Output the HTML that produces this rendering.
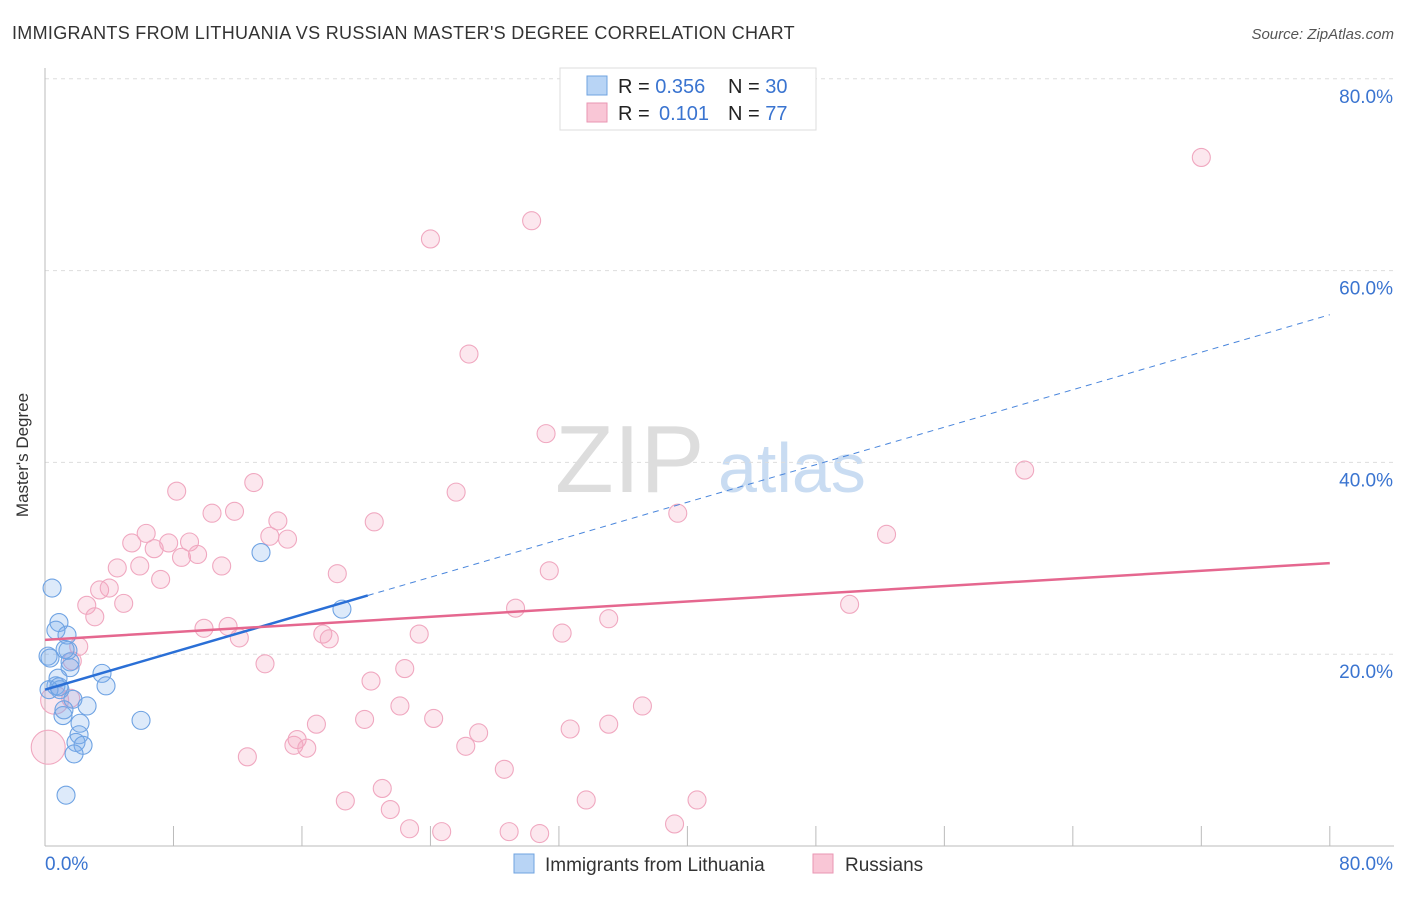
<!DOCTYPE html>
<html><head><meta charset="utf-8"><style>
body{margin:0;background:#fff;font-family:"Liberation Sans",sans-serif;}
svg text{font-family:"Liberation Sans",sans-serif;}
</style></head><body>
<svg id="chart" width="1406" height="892">
<text x="12" y="39" font-size="18" fill="#333" letter-spacing="0.3">IMMIGRANTS FROM LITHUANIA VS RUSSIAN MASTER'S DEGREE CORRELATION CHART</text>
<text x="1394" y="39" font-size="15" fill="#555" font-style="italic" text-anchor="end">Source: ZipAtlas.com</text>
<text x="28" y="455" font-size="17" fill="#333" transform="rotate(-90 28 455)" text-anchor="middle">Master's Degree</text>
<text x="555" y="492" font-size="96" fill="#ddd" font-family="Liberation Serif">ZIP</text>
<text x="718" y="492" font-size="70" fill="#c9dcf2">atlas</text>
<g id="grid"></g><g id="axes"></g><g id="pts"></g><g id="lines"></g>
<g>
<rect x="560" y="68" width="256" height="62" fill="#fff" stroke="#ddd"/>
<rect x="587" y="76" width="20" height="19" fill="#b8d4f5" stroke="#6fa3e0"/>
<rect x="587" y="103" width="20" height="19" fill="#f9c6d6" stroke="#e996b3"/>
<text x="618" y="93" font-size="20" fill="#222">R = <tspan fill="#3a74d0">0.356</tspan><tspan x="728">N = </tspan><tspan fill="#3a74d0">30</tspan></text>
<text x="618" y="120" font-size="20" fill="#222">R = <tspan x="659" fill="#3a74d0">0.101</tspan><tspan x="728">N = </tspan><tspan fill="#3a74d0">77</tspan></text>
</g>
<g>
<rect x="514" y="854" width="20" height="19" fill="#b8d4f5" stroke="#6fa3e0"/>
<text x="545" y="871" font-size="19" fill="#333">Immigrants from Lithuania</text>
<rect x="813" y="854" width="20" height="19" fill="#f9c6d6" stroke="#e996b3"/>
<text x="845" y="871" font-size="19" fill="#333">Russians</text>
</g>
</svg>
<script>
const yTicks=[20,40,60,80];
const xTickLabels=["0.0%","80.0%"];
const blueX=[0.44,0.87,0.68,1.37,1.43,0.19,0.31,1.56,1.56,0.81,0.68,0.93,1.74,1.12,1.18,2.62,3.55,3.80,2.18,2.12,1.93,2.37,1.81,1.31,5.98,13.45,18.49,0.25,0.87,1.25];
const blueY=[26.9,23.3,22.5,22.0,20.4,19.8,19.6,19.2,18.6,17.5,16.7,16.3,15.3,13.6,14.2,14.6,18.0,16.7,12.8,11.6,10.8,10.5,9.6,5.3,13.1,30.6,24.7,16.3,16.6,20.5];
const pinkX=[72.0,30.3,24.0,26.4,31.2,61.0,8.2,13.0,25.6,10.4,11.8,14.5,20.5,39.4,52.4,6.3,14.0,15.1,5.4,6.8,7.7,9.0,9.5,8.5,11.0,4.5,5.9,7.2,18.2,31.4,3.4,4.0,4.9,2.6,3.1,29.3,50.1,35.1,9.9,11.4,12.1,17.3,17.7,23.3,32.2,2.1,1.7,13.7,22.4,20.3,1.6,22.1,16.9,19.9,24.2,37.2,27.0,32.7,35.1,15.7,15.5,16.3,26.2,12.6,28.6,21.0,18.7,21.5,33.7,40.6,22.7,24.7,28.9,30.8,39.2,0.2,0.6];
const pinkY=[71.8,65.2,63.3,51.3,43.0,39.2,37.0,37.9,36.9,34.7,34.9,33.9,33.8,34.7,32.5,32.6,32.3,32.0,31.6,31.0,31.6,31.7,30.4,30.1,29.2,29.0,29.2,27.8,28.4,28.7,26.7,26.9,25.3,25.1,23.9,24.8,25.2,23.7,22.7,22.9,21.7,22.1,21.6,22.1,22.2,20.8,19.3,19.0,18.5,17.2,15.4,14.6,12.7,13.2,13.3,14.6,11.8,12.2,12.7,11.1,10.5,10.2,10.4,9.3,8.0,6.0,4.7,3.8,4.8,4.8,1.8,1.5,1.5,1.3,2.3,10.3,15.2];
const pinkR=[];pinkX.forEach((_,i)=>pinkR.push(i===75?17:(i===76?14:9)));
const blueLine=[16.3,55.4,20.1];
const pinkLine=[21.5,29.5];
const X=v=>45+v*16.06, Y=v=>846-v*9.59;
const NS="http://www.w3.org/2000/svg";
function mk(t,a,p){const e=document.createElementNS(NS,t);for(const k in a)e.setAttribute(k,a[k]);p.appendChild(e);return e;}
const grid=document.getElementById('grid'),axes=document.getElementById('axes');
yTicks.forEach(t=>{
 const l=mk('line',{x1:45,x2:1394,y1:Y(t),y2:Y(t),stroke:'#ddd','stroke-dasharray':'4,4'},grid);
 
 
 const tx=mk('text',{x:1393,y:Y(t)+24,'font-size':19,fill:'#3a74d0','text-anchor':'end'},axes);tx.textContent=t.toFixed(1)+'%';
 
 
});
const ya=mk('line',{x1:45,x2:45,y1:68,y2:846,stroke:'#bbb'},axes);


const xa=mk('line',{x1:45,x2:1394,y1:846,y2:846,stroke:'#bbb'},axes);


for(let i=0;i<=10;i++){const t=mk('line',{x1:X(i*8),x2:X(i*8),y1:826,y2:846,stroke:'#bbb'},axes);
 
 }
const xl0=mk('text',{x:45,y:870,'font-size':19,fill:'#3a74d0'},axes);xl0.textContent=xTickLabels[0];


const xl1=mk('text',{x:1393,y:870,'font-size':19,fill:'#3a74d0','text-anchor':'end'},axes);xl1.textContent=xTickLabels[1];


const pts=document.getElementById('pts');
pinkX.forEach((x,i)=>{const c=mk('circle',{cx:X(x),cy:Y(pinkY[i]),r:pinkR[i],fill:'rgba(244,160,188,0.25)',stroke:'#f0a8c0','stroke-width':1.1},pts);
 
 });
blueX.forEach((x,i)=>{const c=mk('circle',{cx:X(x),cy:Y(blueY[i]),r:9,fill:'rgba(120,170,235,0.25)',stroke:'#6fa3e3','stroke-width':1.1},pts);
 
 });
const lines=document.getElementById('lines');
const bAt=v=>blueLine[0]+(blueLine[1]-blueLine[0])*v/80;
const b1=mk('line',{x1:X(0),y1:Y(bAt(0)),x2:X(blueLine[2]),y2:Y(bAt(blueLine[2])),stroke:'#2a6fd6','stroke-width':2.5},lines);


const b2=mk('line',{x1:X(blueLine[2]),y1:Y(bAt(blueLine[2])),x2:X(80),y2:Y(bAt(80)),stroke:'#4a86dc','stroke-width':1,'stroke-dasharray':'6,5'},lines);


const p1=mk('line',{x1:X(0),y1:Y(pinkLine[0]),x2:X(80),y2:Y(pinkLine[1]),stroke:'#e5678f','stroke-width':2.5},lines);


</script>
</body></html>
